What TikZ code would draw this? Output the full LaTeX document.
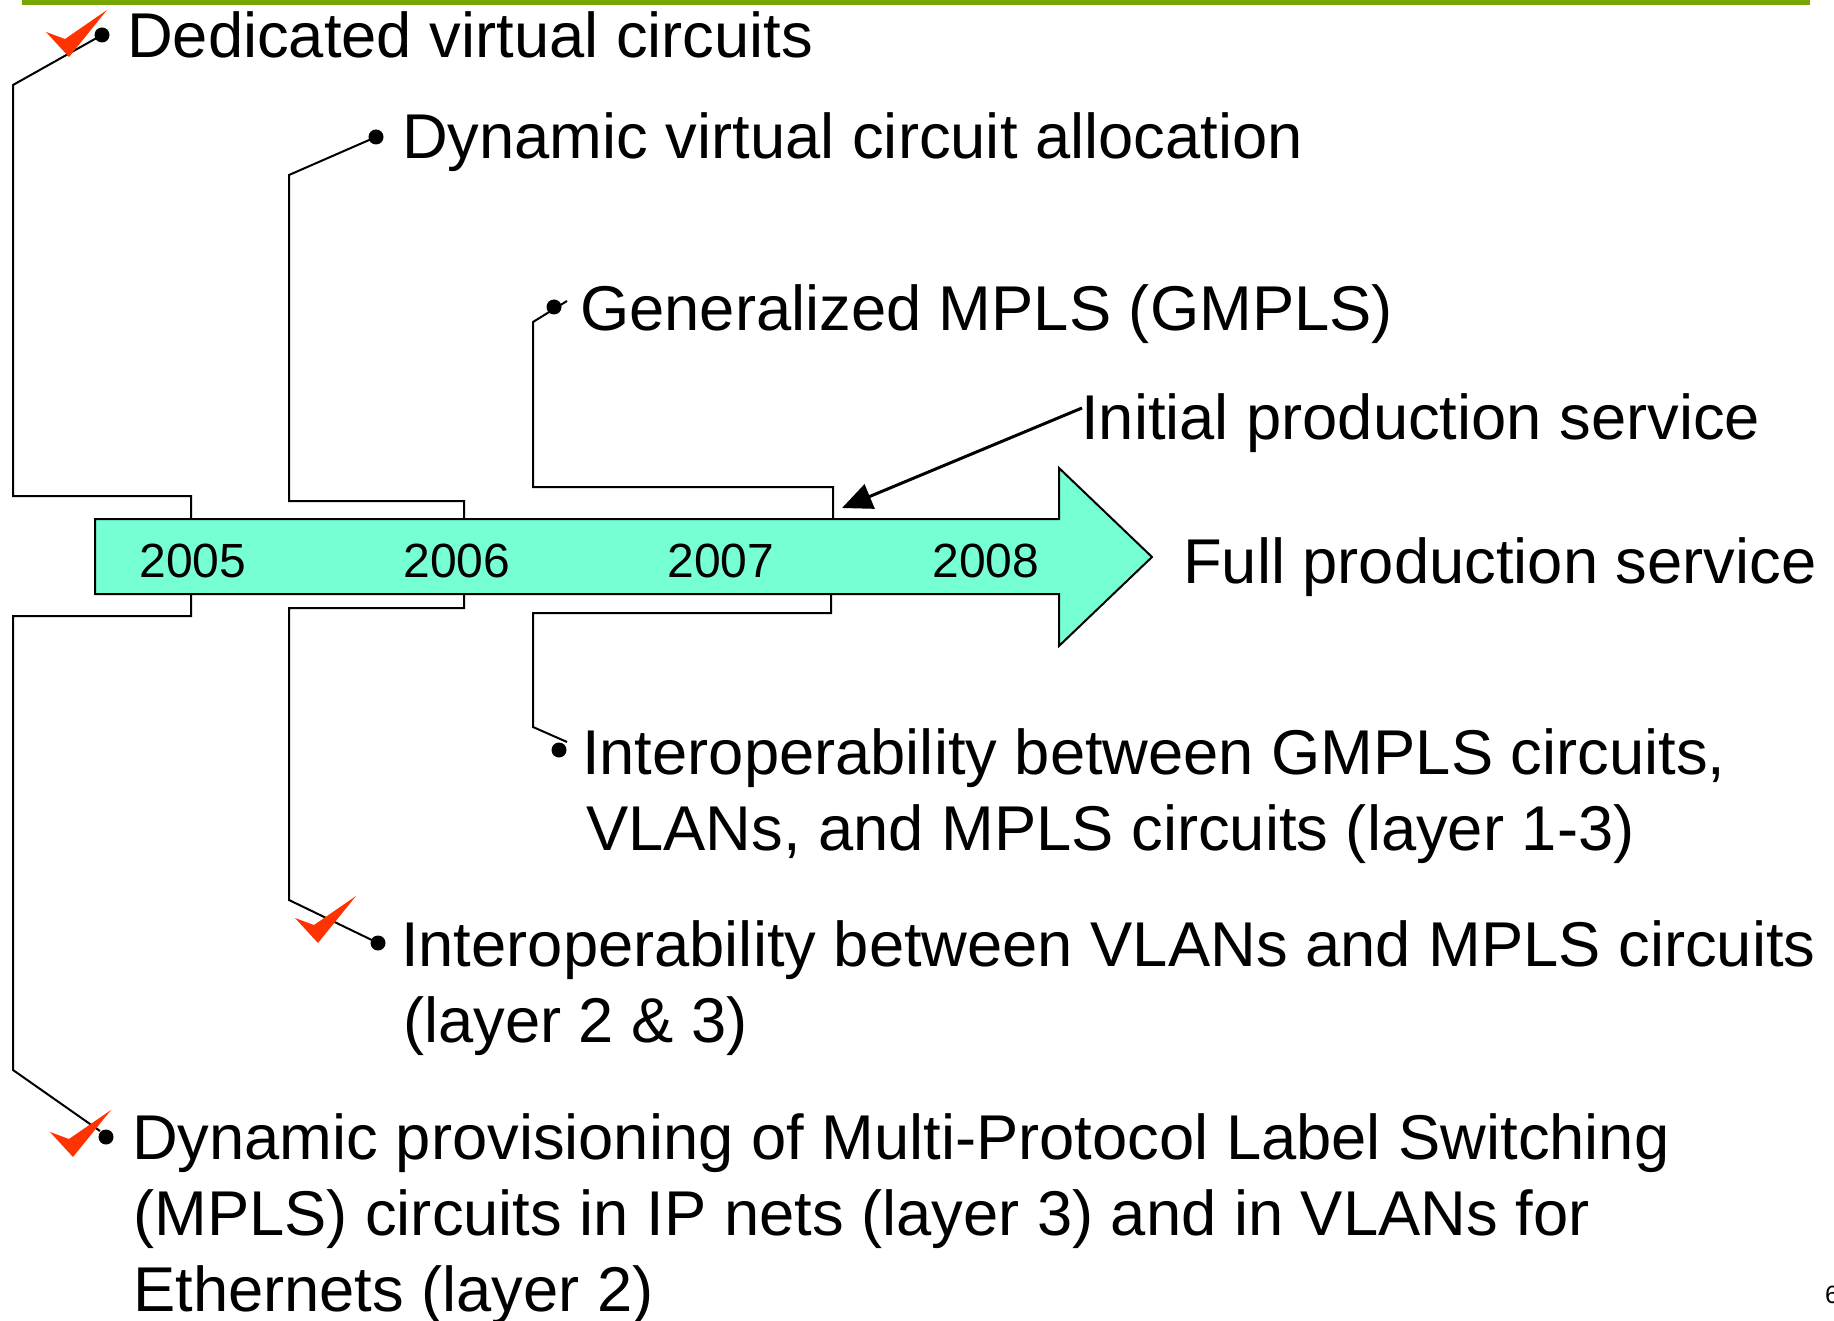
\documentclass[tikz,border=0pt]{standalone}
\usepackage{fontspec}
\setmainfont{Liberation Sans}
\usetikzlibrary{arrows.meta}
\definecolor{topgreen}{RGB}{119,166,0}
\definecolor{aqua}{RGB}{118,255,213}
\definecolor{tickred}{RGB}{255,51,0}
\tikzset{
  lbl/.style={anchor=base west, inner sep=0pt, font=\fontsize{63.3}{76}\selectfont},
  yr/.style={anchor=base, inner sep=0pt, font=\fontsize{48}{58}\selectfont},
  conn/.style={line width=2pt, black},
  bulletdot/.style={circle, fill=black, inner sep=0pt, minimum size=15pt},
  tickmark/.pic={\fill[tickred] (0,0) -- (-23,-25) -- (-4,-18) -- (38,-47) -- cycle;}
}
\begin{document}
\begin{tikzpicture}[x=1pt,y=-1pt]
\useasboundingbox (0,0) rectangle (1834,1321);
\fill[topgreen] (22,0) rectangle (1810,5);

% timeline arrow
\draw[line width=2pt, fill=aqua] (95,519) -- (1059,519) -- (1059,468) -- (1152,557) -- (1059,646) -- (1059,594) -- (95,594) -- cycle;
\node[yr] (y5) at (193,577) {2005};
\node[yr] (y6) at (457,577) {2006};
\node[yr] (y7) at (721,577) {2007};
\node[yr] (y8) at (986,577) {2008};

% attachment points on the arrow
\coordinate (a1t) at (191,519);
\coordinate (a2t) at (464,519);
\coordinate (a3t) at (833,519);
\coordinate (a1b) at (191,594);
\coordinate (a2b) at (464,594);
\coordinate (a3b) at (831,594);

% bullets
\node[bulletdot] (d1) at (102,35) {};
\node[bulletdot] (d2) at (376,137) {};
\node[bulletdot] (d3) at (554,307) {};
\node[bulletdot] (d4) at (559,750) {};
\node[bulletdot] (d5) at (378,943) {};
\node[bulletdot] (d6) at (106,1137) {};
\coordinate (e3) at (567,301);
\coordinate (e4) at (567,742);
\coordinate (e6) at (100,1131);

% connectors
\draw[conn] (a1t) -- (191,496) -- (13,496) -- (13,85) -- (d1.center);
\draw[conn] (a2t) -- (464,501) -- (289,501) -- (289,175) -- (d2.center);
\draw[conn] (a3t) -- (833,487) -- (533,487) -- (533,322) -- (e3);
\draw[conn] (a1b) -- (191,616) -- (13,616) -- (13,1070) -- (e6);
\draw[conn] (a2b) -- (464,608) -- (289,608) -- (289,900) -- (d5.center);
\draw[conn] (a3b) -- (831,613) -- (533,613) -- (533,727) -- (e4);

% ticks
\pic at (69,57) {tickmark};
\pic at (318,943) {tickmark};
\pic at (73,1157) {tickmark};

% texts
\node[lbl] (t1) at (127,58) {Dedicated virtual circuits};
\node[lbl] (t2) at (402,159) {Dynamic virtual circuit allocation};
\node[lbl] (t3) at (580,331) {Generalized MPLS (GMPLS)};
\node[lbl] (t4) at (1081,439) {Initial production service};
\node[lbl] (t5) at (1183,583) {Full production service};
\node[lbl] (t6a) at (582,774) {Interoperability between GMPLS circuits,};
\node[lbl] (t6b) at (586,850) {VLANs, and MPLS circuits (layer 1-3)};
\node[lbl] (t7a) at (401,966) {Interoperability between VLANs and MPLS circuits};
\node[lbl] (t7b) at (403,1042) {(layer 2 \& 3)};
\node[lbl] (t8a) at (132,1159) {Dynamic provisioning of Multi-Protocol Label Switching};
\node[lbl] (t8b) at (133,1235) {(MPLS) circuits in IP nets (layer 3) and in VLANs for};
\node[lbl] (t8c) at (133,1311) {Ethernets (layer 2)};
\node[anchor=base west, inner sep=0pt, font=\fontsize{25}{30}\selectfont] (pg) at (1825,1303) {6};

% initial production arrow
\coordinate (is) at (1082,408);
\coordinate (ip) at (842,508);
\draw[line width=3pt, -{Triangle[length=30pt,width=26pt]}] (is) -- (ip);
\end{tikzpicture}
\end{document}
